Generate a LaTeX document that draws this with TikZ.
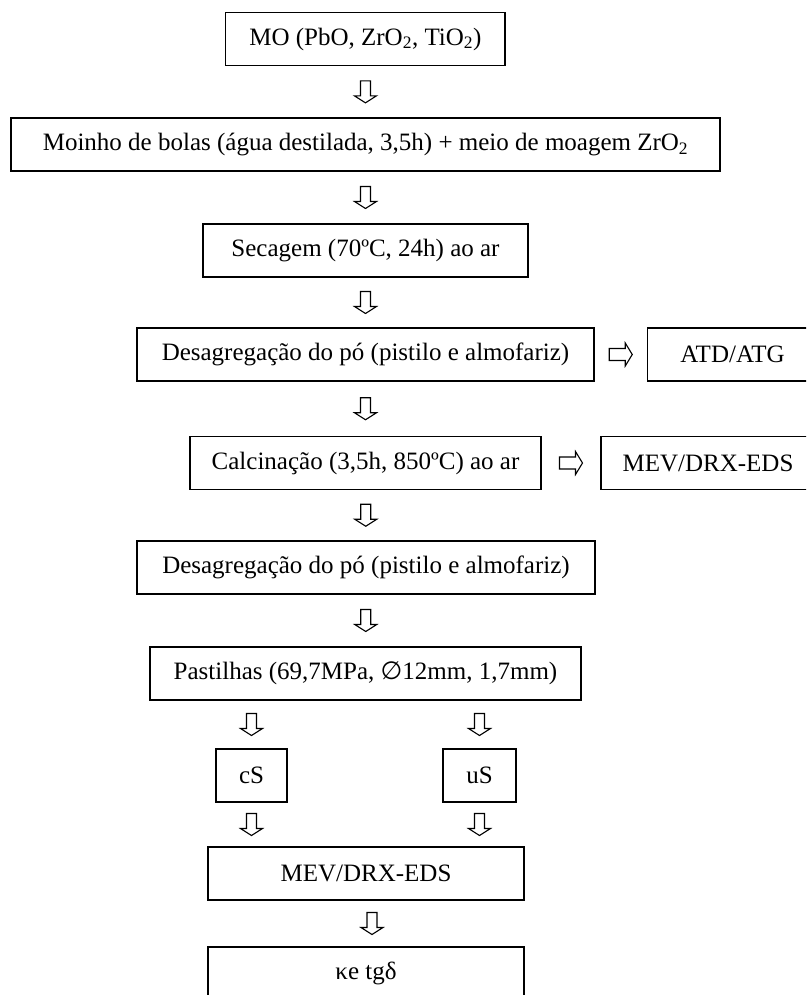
\documentclass[tikz,border=0pt]{standalone}
\usepackage{fontspec}
\setmainfont{Liberation Serif}
\newfontfamily\symfont{DejaVu Sans}
\begin{document}
\begin{tikzpicture}[x=1pt,y=-1pt,
  box/.style={draw, line width=1.5pt, minimum height=53pt, inner sep=0pt,
    font=\fontsize{25}{30}\selectfont},
  arrline/.style={draw, line width=1.1pt, line join=miter},
  pics/darr/.style={code={\draw[arrline] (-5,-11) -- (5,-11) -- (5,4) -- (11,4) -- (0,11) -- (-11,4) -- (-5,4) -- cycle;}},
  pics/rarr/.style={code={\draw[arrline] (-11.5,-6) -- (4.5,-6) -- (4.5,-11.5) -- (11.5,0) -- (4.5,11.5) -- (4.5,6) -- (-11.5,6) -- cycle;}}
]
\clip (0,0) rectangle (806,995);
\fill[white] (0,0) rectangle (806,995);

\node[box, minimum width=279.5pt] (mo) at (365.4,39.2) {MO (PbO, ZrO\textsubscript{2}, TiO\textsubscript{2})};
\node[box, minimum width=709pt] (moi) at (365.5,144.5) {Moinho de bolas (água destilada, 3,5h) + meio de moagem ZrO\textsubscript{2}};
\node[box, minimum width=325pt] (sec) at (365.5,250.5) {Secagem (70ºC, 24h) ao ar};
\node[box, minimum width=457pt] (des1) at (365.5,354.5) {Desagregação do pó (pistilo e almofariz)};
\node[box, minimum width=170pt] (atd) at (732.5,354.5) {ATD/ATG};
\node[box, minimum width=351pt] (cal) at (365.5,463) {Calcinação (3,5h, 850ºC) ao ar};
\node[box, minimum width=214pt] (mev1) at (708,463) {MEV/DRX-EDS};
\node[box, minimum width=458pt] (des2) at (366,567.5) {Desagregação do pó (pistilo e almofariz)};
\node[box, minimum width=431pt] (pas) at (365.5,673.5) {Pastilhas (69,7MPa, {\symfont ∅}12mm, 1,7mm)};
\node[box, minimum width=71pt] (cs) at (251.5,775.5) {cS};
\node[box, minimum width=73pt] (us) at (479.5,775.5) {uS};
\node[box, minimum width=316pt] (mev2) at (366,873.5) {MEV/DRX-EDS};
\node[box, minimum width=316pt] (kap) at (366,973.5) {κe tgδ};

% vertical arrows
\path (mo.south) -- (moi.north) coordinate[midway] (a1);
\path (moi.south) -- (sec.north) coordinate[midway] (a2);
\path (sec.south) -- (des1.north) coordinate[midway] (a3);
\path (des1.south) -- (cal.north) coordinate[midway] (a4);
\path (cal.south) -- (des2.north) coordinate[midway] (a5);
\path (des2.south) -- (pas.north) coordinate[midway] (a6);
\path (cs.north |- pas.south) -- (cs.north) coordinate[midway] (a7);
\path (us.north |- pas.south) -- (us.north) coordinate[midway] (a8);
\path (cs.south) -- (cs.south |- mev2.north) coordinate[midway] (a9);
\path (us.south) -- (us.south |- mev2.north) coordinate[midway] (a10);
\path (mev2.south) -- (kap.north) coordinate[midway] (a11);
\foreach \c in {a1,a2,a3,a4,a5,a6,a7,a8,a9,a10} {\pic at (\c) {darr};}
\pic at ([xshift=6pt]a11) {darr};

% horizontal arrows
\path (des1.east) -- (atd.west) coordinate[midway] (r1);
\path (cal.east) -- (mev1.west) coordinate[midway] (r2);
\pic at (r1) {rarr};
\pic at (r2) {rarr};
\end{tikzpicture}
\end{document}
